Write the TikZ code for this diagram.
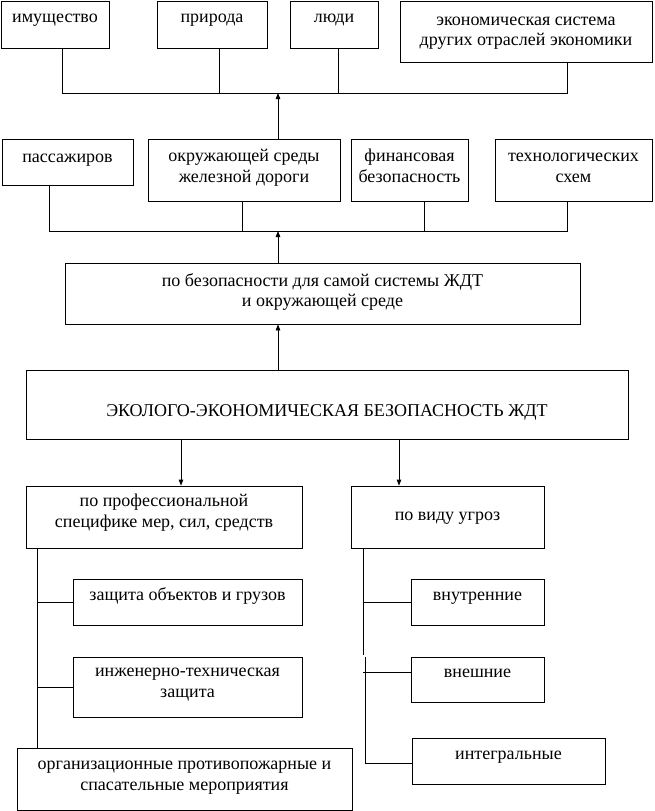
\documentclass[tikz,border=0pt]{standalone}
\usepackage{fontspec}
\setmainfont{Liberation Serif}
\usetikzlibrary{arrows.meta}
\newcommand\bx[7]{%
  \node[box,minimum width={(#4-#2)*1pt},minimum height={(#5-#3)*1pt}] (#1) at ({(#2+#4)/2},{(#3+#5)/2})
  {\raisebox{#6pt}[\height][\depth]{\begin{tabular}{@{}c@{}}#7\end{tabular}}};}
\begin{document}
\begin{tikzpicture}[x=1pt,y=-1pt,
  box/.style={draw,line width=0.8pt,inner sep=0pt,font=\fontsize{18}{20.5}\selectfont},
  conn/.style={line width=0.8pt},
  arr/.style={line width=0.8pt,-{Triangle[length=6pt,width=4.5pt]}}]
\useasboundingbox (0,0) rectangle (654,811);
\renewcommand\arraystretch{1}
% row 1
\bx{imu}{1}{1}{109}{48}{6}{имущество}
\bx{pri}{157}{1}{267}{48}{6}{природа}
\bx{lud}{290}{1}{378}{48}{6}{люди}
\bx{eko}{400}{1}{652}{62}{0}{экономическая система\\других отраслей экономики}
% row 2
\bx{pas}{2}{139}{133}{185}{4}{пассажиров}
\bx{okr}{148}{139}{340}{201}{2}{окружающей среды\\железной дороги}
\bx{fin}{351}{139}{468}{201}{2}{финансовая\\безопасность}
\bx{teh}{495}{139}{652}{201}{2}{технологических\\схем}
% middle
\bx{pob}{65}{263}{580}{324}{1}{по безопасности для самой системы ЖДТ\\и окружающей среде}
\bx{main}{26}{370}{628}{439}{-8}{ЭКОЛОГО-ЭКОНОМИЧЕСКАЯ БЕЗОПАСНОСТЬ ЖДТ}
% lower left
\bx{prof}{26}{486}{302}{548}{4}{по профессиональной\\специфике мер, сил, средств}
\bx{zas}{73}{579}{302}{625}{6}{защита объектов и грузов}
\bx{inz}{73}{657}{302}{717}{4}{инженерно-техническая\\защита}
\bx{org}{17}{748}{352}{810}{3}{организационные противопожарные и\\спасательные мероприятия}
% lower right
\bx{vid}{351}{486}{544}{548}{1}{по виду угроз}
\bx{vnu}{411}{579}{544}{625}{6}{внутренние}
\bx{vne}{411}{657}{544}{702}{6}{внешние}
\bx{int}{412}{738}{605}{784}{6}{интегральные}
% bus 1
\coordinate (a1) at (62,93);
\coordinate (a2) at (219,93);
\coordinate (a3) at (338,93);
\coordinate (a4) at (567,93);
\coordinate (ah) at (278,93);
\draw[conn] (a1 |- imu.south) -- (a1) -- (a4) -- (a4 |- eko.south);
\draw[conn] (a2 |- pri.south) -- (a2);
\draw[conn] (a3 |- lud.south) -- (a3);
\draw[arr] (ah |- okr.north) -- (ah);
% bus 2
\coordinate (c1) at (49,231);
\coordinate (c2) at (242,231);
\coordinate (c3) at (424,231);
\coordinate (c4) at (567,231);
\coordinate (ch) at (278,231);
\draw[conn] (c1 |- pas.south) -- (c1) -- (c4) -- (c4 |- teh.south);
\draw[conn] (c2 |- okr.south) -- (c2);
\draw[conn] (c3 |- fin.south) -- (c3);
\draw[arr] (ch |- pob.north) -- (ch);
% main
\coordinate (m0) at (278,0);
\draw[arr] (m0 |- main.north) -- (m0 |- pob.south);
\coordinate (m1) at (181,0);
\coordinate (m2) at (399,0);
\draw[arr] (m1 |- main.south) -- (m1 |- prof.north);
\draw[arr] (m2 |- main.south) -- (m2 |- vid.north);
% left spine
\coordinate (l0) at (37.5,0);
\draw[conn] (l0 |- prof.south) -- (l0 |- org.north);
\draw[conn] (l0 |- zas.west) -- (zas.west);
\draw[conn] (l0 |- inz.west) -- (inz.west);
% right spine
\coordinate (r0) at (363,655);
\coordinate (r1) at (365,657);
\draw[conn] (r0 |- vid.south) -- (r0);
\draw[conn] (r1) -- (365,763) -- (int.west |- 0,763);
\draw[conn] (r0 |- vnu.west) -- (vnu.west);
\draw[conn] (363,672) -- (vne.west |- 0,672);
\end{tikzpicture}
\end{document}
